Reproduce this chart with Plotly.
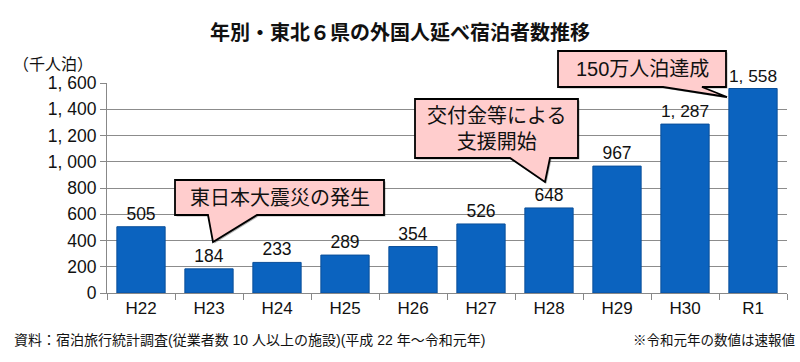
import plotly.graph_objects as go

categories = ["H22", "H23", "H24", "H25", "H26", "H27", "H28", "H29", "H30", "R1"]
values = [505, 184, 233, 289, 354, 526, 648, 967, 1287, 1558]
ytick_vals = [0, 200, 400, 600, 800, 1000, 1200, 1400, 1600]

title_text = "年別・東北６県の外国人延べ宿泊者数推移"
unit_text = "（千人泊）"
source_text = "資料：宿泊旅行統計調査(従業者数 10 人以上の施設)(平成 22 年～令和元年)"
note_text = "※令和元年の数値は速報値"


def fmt(v):
    s = f"{v:,}"
    return s.replace(",", ", ")


W, H = 800, 362
L, R, T, B = 107, 13, 83, 69
PW, PH = W - L - R, H - T - B

NUM = "Liberation Sans, Arial, Noto Sans CJK JP, sans-serif"
CJK = "Noto Sans CJK JP, sans-serif"


def px(x):
    return (x - L) / PW


def py(y):
    return (H - B - y) / PH


fig = go.Figure()
fig.add_trace(go.Bar(
    x=categories, y=values,
    marker=dict(color="#0B63BF", line=dict(color="#0A4F9A", width=1)),
    text=[fmt(v) for v in values], textposition="outside",
    textfont=dict(family=NUM, size=17.5, color="#111"),
    cliponaxis=False, width=0.71,
))

shapes = []
annotations = []


def callout(x0, y0, x1, y1, bl, br, tip, lines, size=20):
    def pth(d):
        return (f"M {px(x0+d)},{py(y0+d)} L {px(x1+d)},{py(y0+d)} L {px(x1+d)},{py(y1+d)} "
                f"L {px(br+d)},{py(y1+d)} L {px(tip[0]+d)},{py(tip[1]+d)} L {px(bl+d)},{py(y1+d)} "
                f"L {px(x0+d)},{py(y1+d)} Z")
    shapes.append(dict(type="path", xref="paper", yref="paper", path=pth(1.5),
                       fillcolor="rgba(0,0,0,0.3)", line=dict(width=0), layer="above"))
    shapes.append(dict(type="path", xref="paper", yref="paper", path=pth(0),
                       fillcolor="#FFCDCD", line=dict(color="#000", width=1.8), layer="above"))
    annotations.append(dict(xref="paper", yref="paper", x=px((x0 + x1) / 2), y=py((y0 + y1) / 2),
                            text="<br>".join(lines), showarrow=False, xanchor="center", yanchor="middle",
                            font=dict(family=NUM, size=size, color="#111")))


callout(175, 180, 384, 215, 208, 257, (213, 242), ["東日本大震災の発生"])
callout(415, 99, 578, 158, 510, 550, (545, 182), ["交付金等による", "支援開始"])
callout(558, 51, 726, 87, 663, 702, (727, 97), ["150万人泊達成"])

annotations.append(dict(xref="paper", yref="paper", x=px(53), y=py(63), text=unit_text,
                        showarrow=False, xanchor="center", yanchor="middle",
                        font=dict(family=CJK, size=16, color="#111")))
annotations.append(dict(xref="paper", yref="paper", x=px(12), y=py(340), text=source_text,
                        showarrow=False, xanchor="left", yanchor="middle",
                        font=dict(family=NUM, size=14, color="#111")))
annotations.append(dict(xref="paper", yref="paper", x=px(797), y=py(340), text=note_text,
                        showarrow=False, xanchor="right", yanchor="middle",
                        font=dict(family=NUM, size=13.5, color="#111")))

fig.update_layout(
    width=W, height=H,
    margin=dict(l=L, r=R, t=T, b=B),
    paper_bgcolor="white", plot_bgcolor="white",
    showlegend=False,
    title=dict(text=title_text, x=0.5, xanchor="center", y=1 - 33 / H, yanchor="middle",
               font=dict(family=CJK, size=20, color="#111", weight="bold")),
    bargap=0.28,
    shapes=shapes,
    annotations=annotations,
    xaxis=dict(type="category", showline=True, linecolor="#888", linewidth=1,
               ticks="outside", tickson="boundaries", ticklen=6, tickcolor="#888",
               tickfont=dict(family=NUM, size=17, color="#111"), showgrid=False),
    yaxis=dict(range=[0, 1600], tickvals=ytick_vals, ticktext=[fmt(v) for v in ytick_vals],
               showline=True, linecolor="#888", linewidth=1, ticks="outside", ticklen=6,
               tickcolor="#888", showgrid=True, gridcolor="#8c8c8c", gridwidth=1,
               tickfont=dict(family=NUM, size=17.5, color="#111"), zeroline=False),
)

fig.write_html("out.html", config={"displayModeBar": False},
               post_script="document.body.style.margin='0';document.body.style.overflow='hidden';")
